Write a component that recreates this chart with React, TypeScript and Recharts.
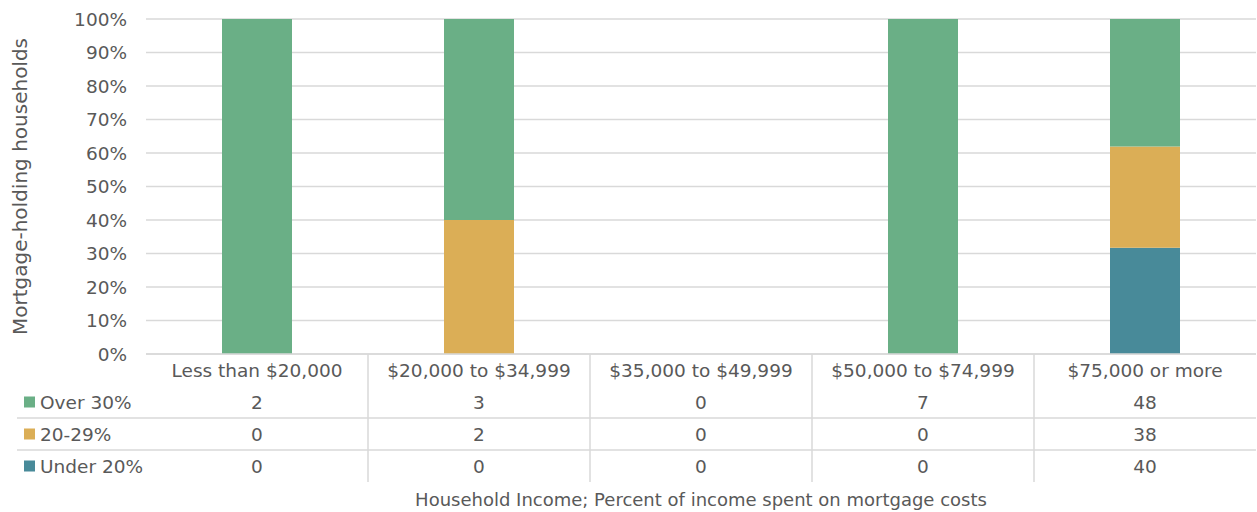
import React from "react";
import { BarChart, Bar, XAxis, YAxis, CartesianGrid } from "recharts";

const categories = [
  "Less than $20,000",
  "$20,000 to $34,999",
  "$35,000 to $49,999",
  "$50,000 to $74,999",
  "$75,000 or more",
];
const over30 = [2, 3, 0, 7, 48];
const mid2029 = [0, 2, 0, 0, 38];
const under20 = [0, 0, 0, 0, 40];
const yTicks = [0, 0.1, 0.2, 0.3, 0.4, 0.5, 0.6, 0.7, 0.8, 0.9, 1];

const GREEN = "#6AAF86";
const GOLD = "#DBAE56";
const TEAL = "#488A99";
const TEXT = "#595959";
const LINE = "#D9D9D9";
const FONT = "'DejaVu Sans', 'Liberation Sans', sans-serif";
const FS = 18.5;

// table rows, top to bottom
const rows = [
  { name: "Over 30%", values: over30, color: GREEN },
  { name: "20-29%", values: mid2029, color: GOLD },
  { name: "Under 20%", values: under20, color: TEAL },
];

const data = categories.map((name, i) => ({
  name,
  under20: under20[i],
  mid2029: mid2029[i],
  over30: over30[i],
}));

function TableTick(props: any) {
  const { x, y, payload, index, width, visibleTicksCount } = props;
  const band = width && visibleTicksCount ? width / visibleTicksCount : 222;
  const left = x - band / 2;
  const right = x + band / 2;
  const rowY = [48, 80, 112];
  const lineY = [64, 96];
  return (
    <g>
      <text x={x} y={y + 16} textAnchor="middle" dominantBaseline="central" fill={TEXT} fontSize={FS} fontFamily={FONT}>
        {payload.value}
      </text>
      {rows.map((r, k) => (
        <text key={r.name} x={x} y={y + rowY[k]} textAnchor="middle" dominantBaseline="central" fill={TEXT} fontSize={FS} fontFamily={FONT}>
          {r.values[index]}
        </text>
      ))}
      {lineY.map((ly) => (
        <line key={ly} x1={index === 0 ? 17 : left} x2={right} y1={y + ly} y2={y + ly} stroke={LINE} strokeWidth={1.5} />
      ))}
      {index < (visibleTicksCount ?? 5) - 1 && (
        <line x1={right} x2={right} y1={y} y2={y + 128} stroke={LINE} strokeWidth={1.5} />
      )}
      {index === 0 &&
        rows.map((r, k) => (
          <g key={r.name}>
            <rect x={24} y={y + rowY[k] - 5.5} width={11} height={11} fill={r.color} />
            <text x={40} y={y + rowY[k]} dominantBaseline="central" fill={TEXT} fontSize={FS} fontFamily={FONT}>
              {r.name}
            </text>
          </g>
        ))}
    </g>
  );
}

export default function App() {
  return (
    <div style={{ position: "absolute", left: 0, top: 0, background: "#fff" }}>
      <BarChart
        width={1257}
        height={512}
        data={data}
        stackOffset="expand"
        margin={{ top: 19, right: 1, left: 0, bottom: 0 }}
      >
        <CartesianGrid vertical={false} stroke={LINE} strokeWidth={1.5} />
        <XAxis
          dataKey="name"
          height={158}
          stroke={LINE}
          strokeWidth={1.5}
          tickLine={false}
          tickSize={0}
          tickMargin={0}
          interval={0}
          tick={<TableTick />}
          label={{
            value: "Household Income; Percent of income spent on mortgage costs",
            position: "insideBottom",
            offset: 6,
            fill: TEXT,
            fontSize: 18,
            fontFamily: FONT,
          }}
        />
        <YAxis
          width={146}
          domain={[0, 1]}
          ticks={yTicks}
          tickFormatter={(v) => `${Math.round(v * 100)}%`}
          axisLine={false}
          tickLine={false}
          tickSize={0}
          tickMargin={19}
          tick={{ fill: TEXT, fontSize: FS, fontFamily: FONT }}
          label={{
            value: "Mortgage-holding households",
            angle: -90,
            position: "center",
            dx: -53,
            fill: TEXT,
            fontSize: 20,
            fontFamily: FONT,
          }}
        />
        <Bar dataKey="under20" stackId="a" fill={TEAL} barSize={70} isAnimationActive={false} />
        <Bar dataKey="mid2029" stackId="a" fill={GOLD} barSize={70} isAnimationActive={false} />
        <Bar dataKey="over30" stackId="a" fill={GREEN} barSize={70} isAnimationActive={false} />
      </BarChart>
    </div>
  );
}
